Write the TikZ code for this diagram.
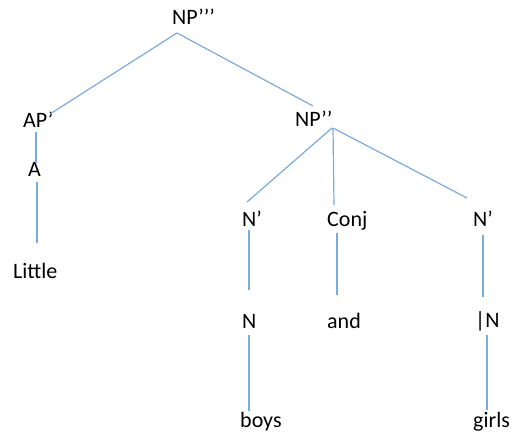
\documentclass[tikz,border=0pt]{standalone}
\usepackage{fontspec}
\setmainfont{Carlito}
\usepackage{tikz}
\usetikzlibrary{positioning}
\definecolor{branchblue}{RGB}{120,172,222}

\begin{document}
\begin{tikzpicture}[x=1bp, y=-1bp,
    word/.style={anchor=base west, inner sep=0pt, font=\fontsize{22bp}{26bp}\selectfont},
    branch/.style={draw=branchblue, line width=1.2bp}]
    \useasboundingbox (0,0) rectangle (513,436);

    % labels
    \node[word] (np3) at (172,25) {NP’’’};
    \node[word] (ap) at (23,128) {AP’};
    \node[word] (np2) at (295,127) {NP’’};
    \node[word] (a) at (28,177) {A};
    \node[word] (little) at (13,278) {Little};
    \node[word] (nb1) at (242,227) {N’};
    \node[word] (conj) at (327,227) {Conj};
    \node[word] (nb2) at (473,227) {N’};
    \node[word] (n1) at (242,328) {N};
    \node[word] (andw) at (327,328) {and};
    \node[word] (n2) at (475,327) {|N};
    \node[word] (boys) at (240,427) {boys};
    \node[word] (girls) at (473,427) {girls};

    % branches
    \draw[branch] ([shift={(5,8)}]np3.base west) -- ([shift={(27,-14)}]ap.base west);
    \draw[branch] ([shift={(5,8)}]np3.base west) -- ([shift={(18,-21)}]np2.base west);
    \draw[branch] ([shift={(13,4)}]ap.base west) -- ([shift={(8,-14)}]a.base west);
    \draw[branch] ([shift={(9,5)}]a.base west) -- ([shift={(24,-35)}]little.base west);

    \draw[branch] ([shift={(37,1)}]np2.base west) -- ([shift={(5,-25)}]nb1.base west);
    \draw[branch] ([shift={(38,1)}]np2.base west) -- ([shift={(7,-22)}]conj.base west);
    \draw[branch] ([shift={(38,1)}]np2.base west) -- ([shift={(-6,-29)}]nb2.base west);

    \draw[branch] ([shift={(7,3)}]nb1.base west) -- ([shift={(7,-38)}]n1.base west);
    \draw[branch] ([shift={(10,6)}]conj.base west) -- ([shift={(10,-33)}]andw.base west);
    \draw[branch] ([shift={(10,8)}]nb2.base west) -- ([shift={(8,-30)}]n2.base west);

    \draw[branch] ([shift={(7,7)}]n1.base west) -- ([shift={(9,-16)}]boys.base west);
    \draw[branch] ([shift={(12,8)}]n2.base west) -- ([shift={(14,-17)}]girls.base west);
\end{tikzpicture}
\end{document}
